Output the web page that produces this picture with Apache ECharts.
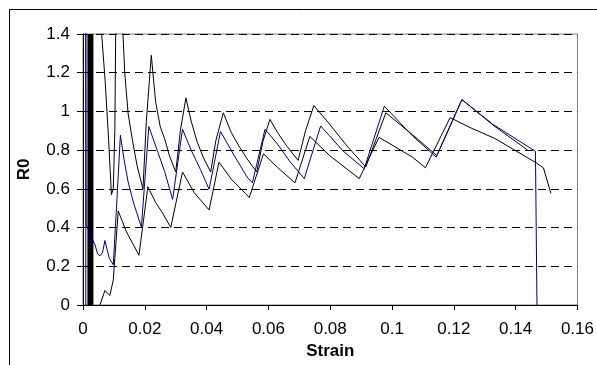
<!DOCTYPE html>
<html>
<head>
<meta charset="utf-8">
<script src="https://cdn.jsdelivr.net/npm/echarts@6/dist/echarts.min.js"></script>
<style>
html, body { margin: 0; padding: 0; background: #fff; }
#chart { width: 597px; height: 365px; }
</style>
</head>
<body>
<div id="chart"></div>
<script>
// x / y ticks
var strainTicks = [0, 0.02, 0.04, 0.06, 0.08, 0.1, 0.12, 0.14, 0.16];
var r0Ticks = [0, 0.2, 0.4, 0.6, 0.8, 1, 1.2, 1.4];

// upper black curve
var upperStrain = [0.0058, 0.0072, 0.0083, 0.0092, 0.0098, 0.0103, 0.0106, 0.0128, 0.0135, 0.0146, 0.016, 0.0175, 0.0194, 0.0205, 0.0221, 0.0235, 0.025, 0.0264, 0.028, 0.030, 0.0315, 0.0333, 0.035, 0.037, 0.039, 0.0413, 0.043, 0.0454, 0.048, 0.0505, 0.0531, 0.0562, 0.0583, 0.0605, 0.063, 0.066, 0.0696, 0.072, 0.0747, 0.0795, 0.085, 0.0915, 0.098, 0.1066, 0.1145, 0.1226, 0.1333, 0.1439];
var upperR0 = [1.45, 1.15, 0.85, 0.57, 0.60, 0.9, 1.45, 1.45, 1.2, 0.99, 0.85, 0.72, 0.60, 0.95, 1.29, 1.05, 0.92, 0.86, 0.77, 0.687, 0.9, 1.07, 0.95, 0.84, 0.76, 0.687, 0.85, 0.993, 0.89, 0.82, 0.755, 0.687, 0.85, 0.959, 0.89, 0.82, 0.747, 0.9, 1.03, 0.94, 0.83, 0.713, 0.993, 0.88, 0.772, 1.061, 0.922, 0.80];

// lower black curve
var lowerStrain = [0.0055, 0.0071, 0.0087, 0.0098, 0.0114, 0.014, 0.0181, 0.021, 0.0235, 0.0258, 0.0284, 0.0322, 0.036, 0.0408, 0.044, 0.048, 0.0525, 0.0538, 0.0584, 0.063, 0.0686, 0.0734, 0.0798, 0.0894, 0.0958, 0.1066, 0.1108, 0.1188, 0.1252, 0.1333, 0.1466, 0.149, 0.1514];
var lowerR0 = [0, 0.075, 0.049, 0.13, 0.486, 0.38, 0.257, 0.611, 0.53, 0.474, 0.401, 0.687, 0.58, 0.491, 0.738, 0.65, 0.577, 0.555, 0.781, 0.71, 0.631, 0.871, 0.772, 0.653, 0.866, 0.764, 0.709, 0.968, 0.917, 0.86, 0.735, 0.708, 0.577];

// blue curve
var blueStrain = [0.0009, 0.0009, 0.001, 0.0039, 0.0047, 0.0055, 0.0063, 0.0071, 0.0085, 0.0098, 0.011, 0.0121, 0.0133, 0.0146, 0.0165, 0.0189, 0.0213, 0.024, 0.0264, 0.029, 0.0322, 0.035, 0.038, 0.0408, 0.0445, 0.049, 0.0531, 0.0548, 0.0589, 0.063, 0.067, 0.0716, 0.0769, 0.0798, 0.084, 0.091, 0.0975, 0.1066, 0.1143, 0.1226, 0.1326, 0.1464, 0.1469];
var blueR0 = [0, 1.45, 0.415, 0.31, 0.265, 0.254, 0.27, 0.333, 0.24, 0.208, 0.55, 0.878, 0.75, 0.636, 0.52, 0.403, 0.922, 0.8, 0.69, 0.546, 0.908, 0.8, 0.7, 0.598, 0.896, 0.77, 0.661, 0.631, 0.908, 0.83, 0.74, 0.653, 0.925, 0.874, 0.798, 0.704, 1.027, 0.874, 0.764, 1.061, 0.934, 0.794, 0];

// initial loading spikes (drawn as one heavy stroke)
var startStrain = [0.0024, 0.0024];
var startR0 = [0, 1.4];

function zip(xs, ys) {
    var out = [];
    for (var i = 0; i < xs.length; i++) {
        out.push([xs[i], ys[i]]);
    }
    return out;
}

function lineItem(name, xs, ys, color, width) {
    return {
        name: name,
        type: 'line',
        showSymbol: false,
        symbol: 'none',
        clip: true,
        data: zip(xs, ys),
        lineStyle: { color: color, width: width },
        itemStyle: { color: color }
    };
}

var labelFont = { fontFamily: 'Liberation Sans, Arial, sans-serif', fontSize: 17, color: '#000' };

var myChart = echarts.init(document.getElementById('chart'));
var option = {
    animation: false,
    backgroundColor: '#fff',
    grid: {
        left: 83,
        right: 17,
        top: 34,
        bottom: 57,
        show: true,
        borderColor: '#808080',
        borderWidth: 1
    },
    graphic: [{
        type: 'rect',
        shape: { x: 9.5, y: 9.5, width: 620, height: 420 },
        style: { fill: 'none', stroke: '#000', lineWidth: 1 },
        silent: true
    }],
    xAxis: {
        type: 'value',
        min: strainTicks[0],
        max: strainTicks[strainTicks.length - 1],
        interval: 0.02,
        name: 'Strain',
        nameLocation: 'middle',
        nameGap: 38,
        nameTextStyle: { fontFamily: 'Liberation Sans, Arial, sans-serif', fontSize: 17, fontWeight: 'bold', color: '#000' },
        axisLine: { show: true, lineStyle: { color: '#000', width: 1 } },
        axisTick: { show: true, inside: false, length: 5, lineStyle: { color: '#000' } },
        axisLabel: Object.assign({ margin: 16, formatter: function (v) { return String(+v.toFixed(2)); } }, labelFont),
        splitLine: { show: false }
    },
    yAxis: {
        type: 'value',
        min: r0Ticks[0],
        max: r0Ticks[r0Ticks.length - 1],
        interval: 0.2,
        name: 'R0',
        nameLocation: 'middle',
        nameGap: 50,
        nameRotate: 90,
        nameTextStyle: { fontFamily: 'Liberation Sans, Arial, sans-serif', fontSize: 17, fontWeight: 'bold', color: '#000' },
        axisLine: { show: true, lineStyle: { color: '#000', width: 1 } },
        axisTick: { show: true, inside: false, length: 6, lineStyle: { color: '#000' } },
        axisLabel: Object.assign({ margin: 13, formatter: function (v) { return String(+v.toFixed(1)); } }, labelFont),
        splitLine: { show: true, lineStyle: { color: '#000', width: 1, type: [8, 5] } }
    },
    series: [
        lineItem('start', startStrain, startR0, '#000', 6),
        lineItem('upper', upperStrain, upperR0, '#000', 1),
        lineItem('lower', lowerStrain, lowerR0, '#000', 1),
        lineItem('blue', blueStrain, blueR0, '#000080', 1)
    ]
};
myChart.setOption(option);
</script>
</body>
</html>
